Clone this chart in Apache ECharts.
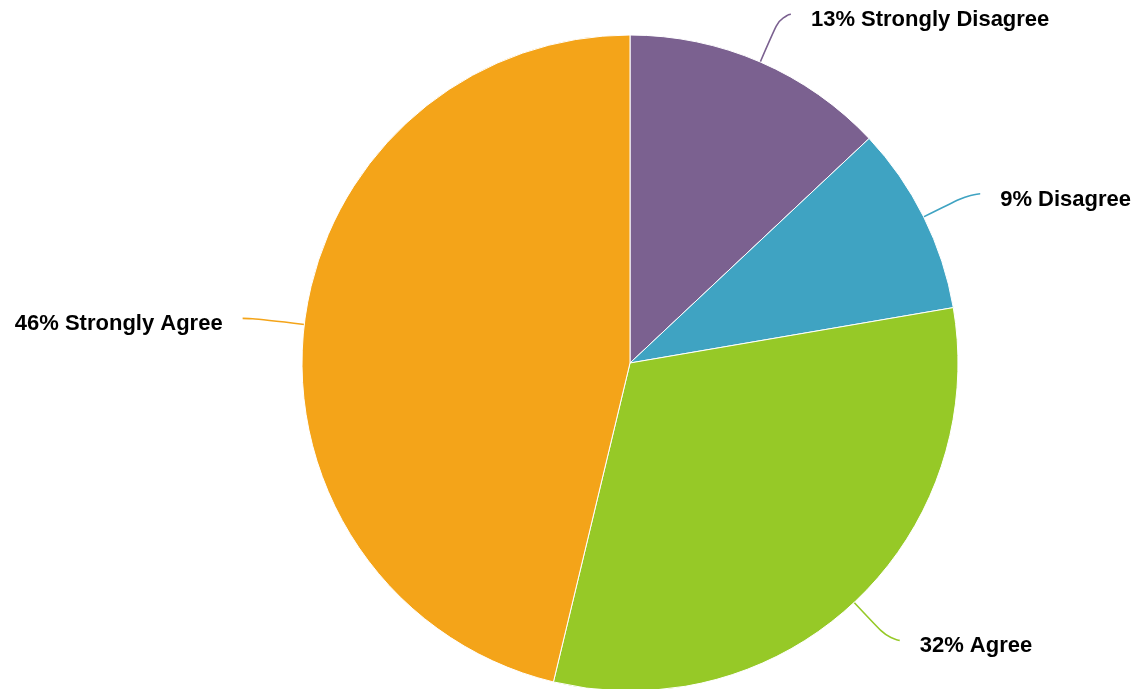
<!DOCTYPE html>
<html>
<head>
<meta charset="utf-8">
<script src="https://cdn.jsdelivr.net/npm/echarts@6/dist/echarts.min.js"></script>
<style>html,body{margin:0;padding:0;background:#fff;}#c{width:1140px;height:689px;}</style>
</head>
<body>
<div id="c"></div>
<script>
const categories = ['Strongly Disagree', 'Disagree', 'Agree', 'Strongly Agree'];
const values = [13.0, 9.3, 31.45, 46.25];
const percentLabels = [13, 9, 32, 46];
const colors = ['#7B6190', '#3FA3C2', '#96C927', '#F4A419'];

const chart = echarts.init(document.getElementById('c'));
chart.setOption({
  animation: false,
  series: [{
    type: 'pie',
    center: [630, 363],
    radius: 328,
    startAngle: 90,
    clockwise: true,
    avoidLabelOverlap: false,
    data: categories.map((c, i) => ({ name: c, value: values[i], itemStyle: { color: colors[i] } })),
    label: {
      show: true,
      position: 'outside',
      formatter: p => '{t|' + percentLabels[p.dataIndex] + '% ' + p.name + '}',
      distanceToLabelLine: 20,
      rich: {
        t: {
          fontFamily: 'Liberation Sans, Arial, sans-serif',
          fontWeight: 'bold',
          fontSize: 22,
          color: '#000',
          padding: [12, 0, 0, 0]
        }
      }
    },
    labelLine: {
      show: true,
      length: 52,
      length2: 10,
      smooth: 0.8,
      lineStyle: { width: 1.6 }
    },
    itemStyle: { borderColor: '#fff', borderWidth: 1 }
  }]
});
</script>
</body>
</html>
